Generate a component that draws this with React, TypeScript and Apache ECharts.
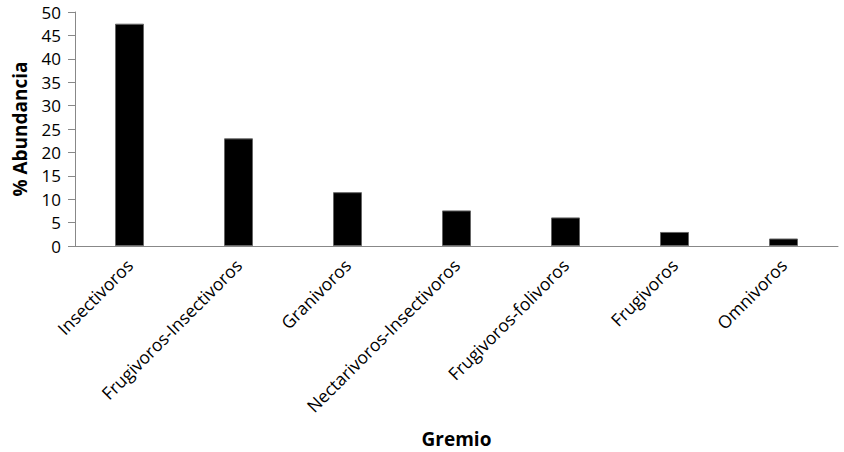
import React, { useEffect, useRef } from "react";
import * as echarts from "echarts";

const categories = [
  "Insectivoros",
  "Frugivoros-Insectivoros",
  "Granivoros",
  "Nectarivoros-Insectivoros",
  "Frugivoros-folivoros",
  "Frugivoros",
  "Omnivoros",
];
const values = [47.5, 23.0, 11.5, 7.6, 6.1, 3.0, 1.6];
const yTicks = [0, 5, 10, 15, 20, 25, 30, 35, 40, 45, 50];

export default function App() {
  const ref = useRef<HTMLDivElement>(null);
  useEffect(() => {
    if (!ref.current) return;
    const chart = echarts.init(ref.current, null, { renderer: "svg" });
    const font = "'Open Sans', 'Liberation Sans', sans-serif";
    chart.setOption({
      animation: false,
      grid: { left: 75, right: 6, top: 12, bottom: 206, containLabel: false, outerBoundsMode: "none" },
      xAxis: {
        type: "category",
        data: categories,
        name: "Gremio",
        nameLocation: "middle",
        nameGap: 183,
        nameTextStyle: { fontFamily: font, fontSize: 19, fontWeight: "bold", color: "#000" },
        axisLine: { lineStyle: { color: "#888", width: 1 } },
        axisTick: { show: false },
        axisLabel: {
          rotate: 45,
          interval: 0,
          margin: 16,
          fontFamily: font,
          fontSize: 17.5,
          color: "#000",
        },
      },
      yAxis: {
        type: "value",
        min: yTicks[0],
        max: yTicks[yTicks.length - 1],
        interval: 5,
        name: "% Abundancia",
        nameLocation: "middle",
        nameGap: 46,
        nameTextStyle: { fontFamily: font, fontSize: 19, fontWeight: "bold", color: "#000" },
        axisLine: { show: true, lineStyle: { color: "#888", width: 1 } },
        axisTick: { show: true, length: 7, lineStyle: { color: "#888" } },
        splitLine: { show: false },
        axisLabel: { fontFamily: font, fontSize: 17, color: "#000", margin: 14 },
      },
      series: [
        {
          type: "bar",
          data: values,
          barWidth: 29,
          itemStyle: { color: "#000", borderColor: "#666", borderWidth: 1 },
        },
      ],
    });
    return () => chart.dispose();
  }, []);
  return <div ref={ref} style={{ width: 844, height: 452, position: "absolute", left: 0, top: 0 }} />;
}
